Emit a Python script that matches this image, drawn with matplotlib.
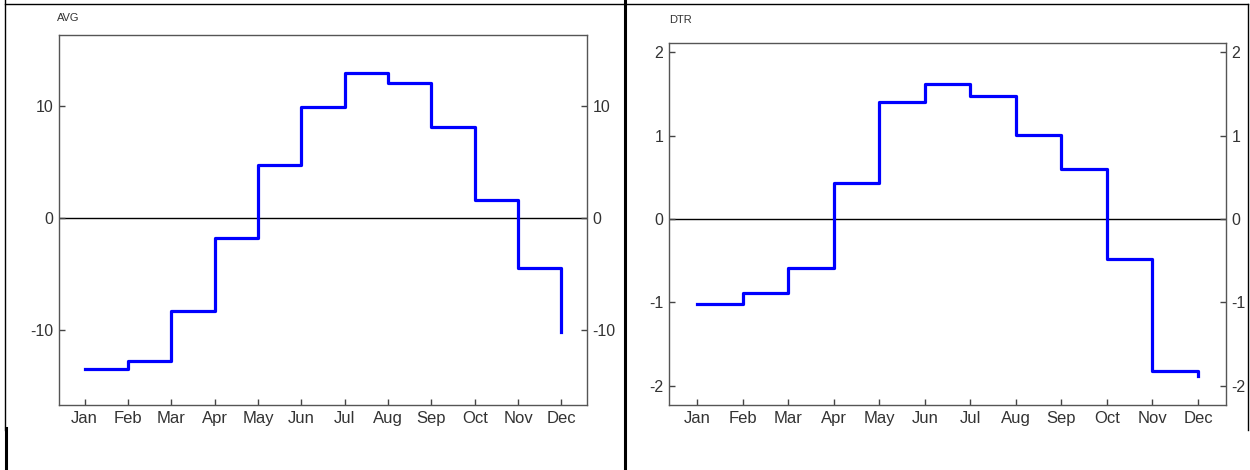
import matplotlib
matplotlib.use("Agg")
import matplotlib.pyplot as plt
from matplotlib.lines import Line2D

plt.rcParams['font.family'] = ['Liberation Sans', 'DejaVu Sans']

months = ['Jan', 'Feb', 'Mar', 'Apr', 'May', 'Jun', 'Jul', 'Aug', 'Sep', 'Oct', 'Nov', 'Dec']
avg_values = [-13.5, -12.75, -8.3, -1.8, 4.75, 9.9, 12.9, 12.05, 8.05, 1.55, -4.45, -10.2]
dtr_values = [-1.02, -0.89, -0.59, 0.43, 1.40, 1.62, 1.47, 1.01, 0.60, -0.48, -1.82, -1.88]
avg_ticks = [-10, 0, 10]
dtr_ticks = [-2, -1, 0, 1, 2]

W, H = 1250, 470
fig = plt.figure(figsize=(W / 100, H / 100), dpi=100)

def px_axes(l, t, r, b):
    return fig.add_axes([l / W, 1 - b / H, (r - l) / W, (b - t) / H])

def style(ax, values, ticks, ylim, title, xlim, title_y, title_dx):
    x = list(range(1, 13))
    ax.axhline(0, color='black', lw=1.0, zorder=1)
    ax.plot(x, values, drawstyle='steps-post', color='#0000ff', lw=2.3, zorder=3)
    ax.set_xlim(*xlim)
    ax.set_ylim(*ylim)
    ax.set_xticks(x)
    ax.set_xticklabels(months)
    ax.set_yticks(ticks)
    ax.set_yticklabels([str(t) for t in ticks])
    ax.tick_params(axis='y', which='both', direction='in', left=True, right=True,
                   labelleft=True, labelright=True, length=4, width=1,
                   color='#444444', labelcolor='#333333', labelsize=11.5, pad=4)
    ax.tick_params(axis='x', direction='in', bottom=True, top=False, length=4, width=1,
                   color='#444444', labelcolor='#333333', labelsize=12, pad=4)
    for s in ax.spines.values():
        s.set_color('#555555')
        s.set_linewidth(1.0)
    ax.text(title_dx, title_y, title, transform=ax.transAxes, fontsize=8, color='#333333',
            ha='left', va='bottom')

ax1 = px_axes(59, 35, 587, 405)
style(ax1, avg_values, avg_ticks, (-16.7, 16.3), 'AVG', (0.41, 12.59), 1.032, -0.004)
ax2 = px_axes(669, 43, 1226, 405)
style(ax2, dtr_values, dtr_ticks, (-2.23, 2.11), 'DTR', (0.385, 12.615), 1.05, 0.0)

def fline(x0, y0, x1, y1, lw):
    fig.add_artist(Line2D([x0 / W, x1 / W], [1 - y0 / H, 1 - y1 / H],
                          color='black', lw=lw, transform=fig.transFigure))

fline(5, 4, 1247.5, 4, 1.0)
fline(4.5, 0, 4.5, 430, 1.0)
fline(5.5, 428, 5.5, 470, 2.2)
fline(625, 0, 625, 470, 2.2)
fline(1247.5, 4, 1247.5, 430, 1.0)

fig.savefig('out.png', dpi=100)
